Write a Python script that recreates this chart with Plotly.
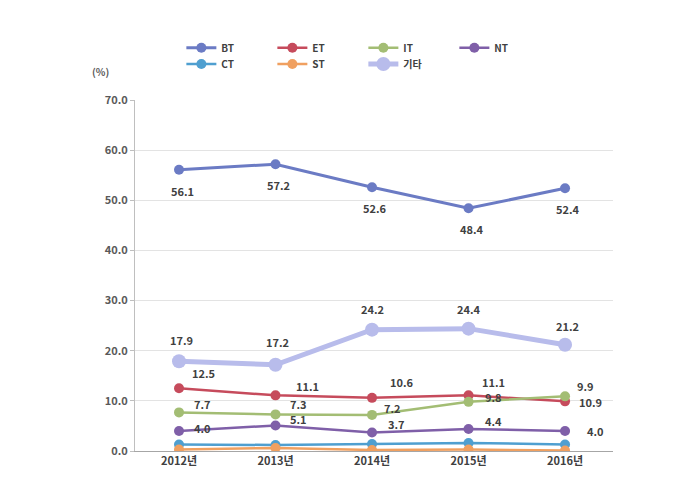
import plotly.graph_objects as go

years = ["2012년", "2013년", "2014년", "2015년", "2016년"]
BT = [56.1, 57.2, 52.6, 48.4, 52.4]
ET = [12.5, 11.1, 10.6, 11.1, 9.9]
IT = [7.7, 7.3, 7.2, 9.8, 10.9]
NT = [4.0, 5.1, 3.7, 4.4, 4.0]
CT = [1.3, 1.2, 1.4, 1.6, 1.3]
ST = [0.3, 0.6, 0.2, 0.3, 0.1]
ETC = [17.9, 17.2, 24.2, 24.4, 21.2]
y_ticks = [0, 10, 20, 30, 40, 50, 60, 70]

series = [
    ("BT", BT), ("ET", ET), ("IT", IT), ("NT", NT),
    ("CT", CT), ("ST", ST), ("기타", ETC),
]

style = {
    "BT": dict(color="#6B7BC4", width=3, size=10, legend="legend"),
    "ET": dict(color="#C64B5C", width=2.5, size=10, legend="legend"),
    "IT": dict(color="#A3BD74", width=2.5, size=10, legend="legend"),
    "NT": dict(color="#7F5FA8", width=2.5, size=10, legend="legend"),
    "CT": dict(color="#4F9FD0", width=2.5, size=10, legend="legend2"),
    "ST": dict(color="#F0A060", width=2.5, size=10, legend="legend2"),
    "기타": dict(color="#B8BCEB", width=5, size=14, legend="legend2"),
}

# label pixel offsets (xshift, yshift) per point
label_offsets = {
    "BT": [(3, -21)] * 5,
    "기타": [(2, 21), (2, 23), (0, 21), (0, 20), (2, 19)],
    "ET": [(24, 15), (32, 9), (30, 16), (25, 13), (20, 15)],
    "IT": [(23, 8), (23, 10), (20, 7), (25, 5), (25, -6)],
    "NT": [(23, 3), (23, 6), (24, 8), (25, 8), (30, 0)],
}

fig = go.Figure()
for name, vals in series:
    s = style[name]
    fig.add_trace(go.Scatter(
        x=years, y=vals, name=name, mode="lines+markers",
        line=dict(color=s["color"], width=s["width"]),
        marker=dict(color=s["color"], size=s["size"]),
        legend=s["legend"],
        hoverinfo="skip",
    ))

annotations = []
for name, vals in series:
    if name not in label_offsets:
        continue
    for i, v in enumerate(vals):
        dx, dy = label_offsets[name][i]
        annotations.append(dict(
            x=years[i], y=v, xref="x", yref="y", text=f"{v:.1f}",
            showarrow=False, xshift=dx, yshift=dy,
            font=dict(family="Noto Sans CJK KR", size=11, color="#404040", weight="bold"),
        ))

annotations.append(dict(
    x=-0.075, y=1.108, xref="paper", yref="paper", text="(%)", showarrow=False,
    xshift=-9,
    font=dict(family="Noto Sans CJK KR", size=10, color="#595959", weight="bold"),
))

legend_common = dict(
    orientation="h", xanchor="left", yanchor="top",
    entrywidth=46, itemwidth=30,
    font=dict(size=10, color="#404040", family="Noto Sans CJK KR", weight="bold"),
    tracegroupgap=0, bgcolor="rgba(0,0,0,0)",
)

fig.update_layout(
    width=691, height=494,
    margin=dict(l=135, r=78, t=100, b=43),
    paper_bgcolor="white", plot_bgcolor="white",
    font=dict(family="Noto Sans CJK KR", color="#595959"),
    showlegend=True,
    legend=dict(x=0.097, y=1.19, **legend_common),
    legend2=dict(x=0.097, y=1.144, **legend_common),
    annotations=annotations,
)
fig.update_xaxes(
    type="category", range=[-0.456, 4.497],
    showline=True, linecolor="#A6A6A6", linewidth=1,
    showgrid=False, ticks="",
    tickfont=dict(size=11, color="#404040", family="Noto Sans CJK KR", weight="bold"),
)
fig.update_yaxes(
    range=[0, 70], tickvals=y_ticks, ticktext=[f"{t:.1f}" for t in y_ticks],
    showline=True, linecolor="#BFBFBF", linewidth=1,
    showgrid=True, gridcolor="#E3E3E3", gridwidth=1,
    ticks="outside", ticklen=4, tickcolor="#BFBFBF",
    zeroline=False,
    tickfont=dict(size=11, color="#595959", family="Noto Sans CJK KR", weight="bold"),
)

fig.write_html("out.html")
